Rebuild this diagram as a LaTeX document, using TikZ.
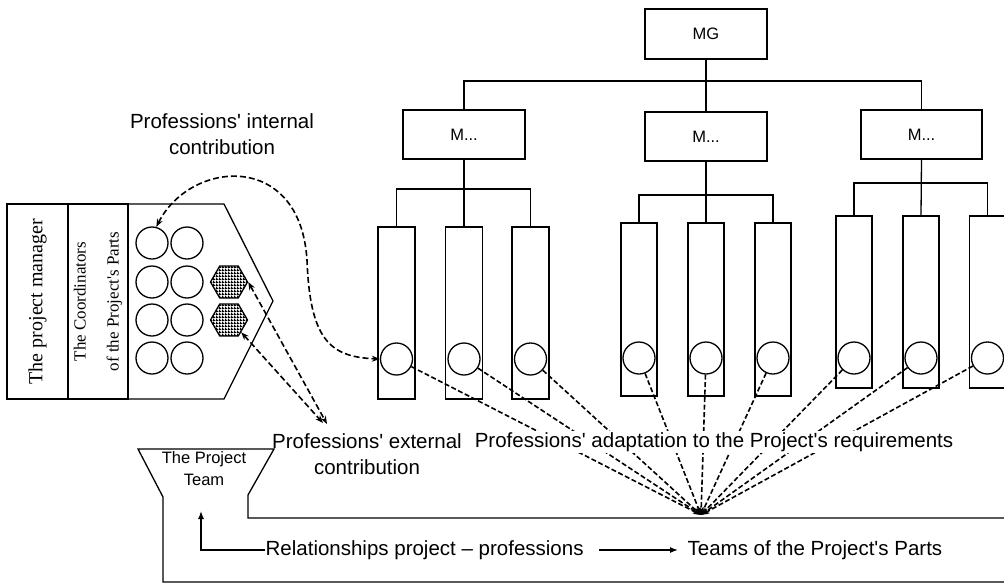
\documentclass[tikz,border=0pt]{standalone}
\usepackage{fontspec}
\setmainfont{Liberation Sans}
\newfontfamily\serifTNR{Liberation Serif}
\usetikzlibrary{arrows.meta,patterns,shapes.geometric}
\newcommand\ap{\textquotesingle}
\pgfdeclarepatternformonly{finegrid}{\pgfqpoint{0pt}{0pt}}{\pgfqpoint{2.7pt}{2.7pt}}{\pgfqpoint{2.7pt}{2.7pt}}{%
  \pgfpathrectangle{\pgfpointorigin}{\pgfqpoint{2.7pt}{1.3pt}}%
  \pgfpathrectangle{\pgfpointorigin}{\pgfqpoint{1.3pt}{2.7pt}}%
  \pgfusepath{fill}}
\begin{document}
\begin{tikzpicture}[x=1pt,y=-1pt,line width=1.3pt,
  box/.style={draw,inner sep=0pt,font=\fontsize{16.5}{19}\selectfont},
  col/.style={draw,minimum width=36,minimum height=172,inner sep=0pt},
  circ/.style={draw,circle,minimum size=32,inner sep=0pt},
  hexa/.style={draw,regular polygon,regular polygon sides=6,minimum size=37,inner sep=0pt,pattern=finegrid},
  fan/.style={dash pattern=on 5pt off 2.5pt,line width=1.6pt,-{Stealth[length=8pt,width=5.5pt]}},
  dbl/.style={dash pattern=on 6pt off 3pt,line width=1.6pt,{Stealth[length=8pt,width=6pt]}-{Stealth[length=8pt,width=6pt]}},
  lbl/.style={font=\fontsize{20.5}{26}\selectfont,align=center,fill=white,inner sep=1pt},
  btxt/.style={font=\fontsize{20.5}{26}\selectfont,inner sep=0pt,anchor=west},
  arr/.style={-{Latex[length=8pt,width=6pt]}}
]
\useasboundingbox (0,0) rectangle (1004,584);
\clip (0,0) rectangle (1004,584);

% tree
\node[box,minimum width=122,minimum height=50] (mg) at (706,34) {MG};
\node[box,minimum width=122,minimum height=49] (m1) at (464,134.5) {M...};
\node[box,minimum width=122,minimum height=49] (m2) at (706,136.5) {M...};
\node[box,minimum width=121,minimum height=49] (m3) at (921.5,134.5) {M...};
\draw (mg.south) -- (m2.north);
\draw (m1.north) |- (706,81) -| (m3.north);

% columns
\node[col,minimum width=37] (c11) at (396.5,313) {};
\node[col,minimum width=37] (c12) at (464,313) {};
\node[col,minimum width=37] (c13) at (530.5,313) {};
\node[col,minimum height=173] (c21) at (639,309.5) {};
\node[col,minimum height=173] (c22) at (706,309.5) {};
\node[col,minimum height=173] (c23) at (773,309.5) {};
\node[col] (c31) at (854,302) {};
\node[col] (c32) at (921,302) {};
\node[col] (c33) at (987.5,302) {};
\draw (m1.south) -- (c12.north);
\draw (c11.north) |- (464,189) -| (c13.north);
\draw (m2.south) -- (c22.north);
\draw (c21.north) |- (706,195) -| (c23.north);
\draw (m3.south) -- (c32.north);
\draw (c31.north) |- (921,183) -| (c33.north);

% circles in columns
\node[circ] (p11) at (396.5,359) {};
\node[circ] (p12) at (464,359) {};
\node[circ] (p13) at (530.5,359) {};
\node[circ] (p21) at (639,358) {};
\node[circ] (p22) at (706,358) {};
\node[circ] (p23) at (773,358) {};
\node[circ] (p31) at (854,358) {};
\node[circ] (p32) at (921,358) {};
\node[circ] (p33) at (987.5,358) {};

% fan
\coordinate (hub) at (701,515);
\foreach \p in {p11,p12,p13,p21,p22,p23,p31,p32,p33}
  \draw[fan] (\p) -- (hub);

% left block
\node[draw,minimum width=195,minimum height=61,inner sep=0pt,rotate=90,
  font=\serifTNR\fontsize{20}{24}\selectfont] (pm) at (37.5,301.5) {The project manager};
\node[draw,minimum width=195,minimum height=60,inner sep=0pt,rotate=90,align=center,
  font=\serifTNR\fontsize{17}{33}\selectfont] (co) at (98,301.5) {The Coordinators\\of the Project\ap s Parts};
\draw (128,204) -- (224,204) -- (273,301) -- (224,399) -- (128,399);

\foreach \r/\yy in {1/243,2/282,3/320,4/358}{
  \node[circ] (q\r1) at (152,\yy) {};
  \node[circ] (q\r2) at (187,\yy) {};
}
\node[hexa] (h1) at (229,282) {};
\node[hexa] (h2) at (229,320) {};

% internal contribution
\draw[dbl] (q11.75) .. controls (190,160) and (300,150) .. (307,260)
  .. controls (310,340) and (330,357) .. (p11.west);
\node[lbl] (int) at (222,134) {Professions\ap\ internal\\contribution};

% external contribution
\coordinate (ex1) at (327,424);
\coordinate (ex2) at (323,423);
\draw[dbl] (h1.east) -- (ex1);
\draw[dbl] (h2.south east) -- (ex2);
\node[lbl] (ext) at (367,454) {Professions\ap\ external\\contribution};
\node[lbl] (adp) at (714,442) {Professions\ap\ adaptation to the Project\ap s requirements};

% project team frame
\draw (1010,582) -- (163,582) -- (163,497) -- (138,449) -- (274,449) -- (248,495) -- (248,518) -- (1010,518);
\node[font=\fontsize{16.5}{22}\selectfont,align=center,inner sep=0pt] (pt) at (204,469) {The Project\\Team};

% bottom legend
\node[btxt] (rel) at (265,550) {Relationships project – professions};
\node[btxt] (teams) at (687,550) {Teams of the Project\ap s Parts};
\coordinate (uptip) at (201,511);
\draw[arr] (rel.west) -| (uptip);
\draw[arr,shorten <=15pt,shorten >=9pt] (rel.east) -- (teams.west);
\end{tikzpicture}
\end{document}
